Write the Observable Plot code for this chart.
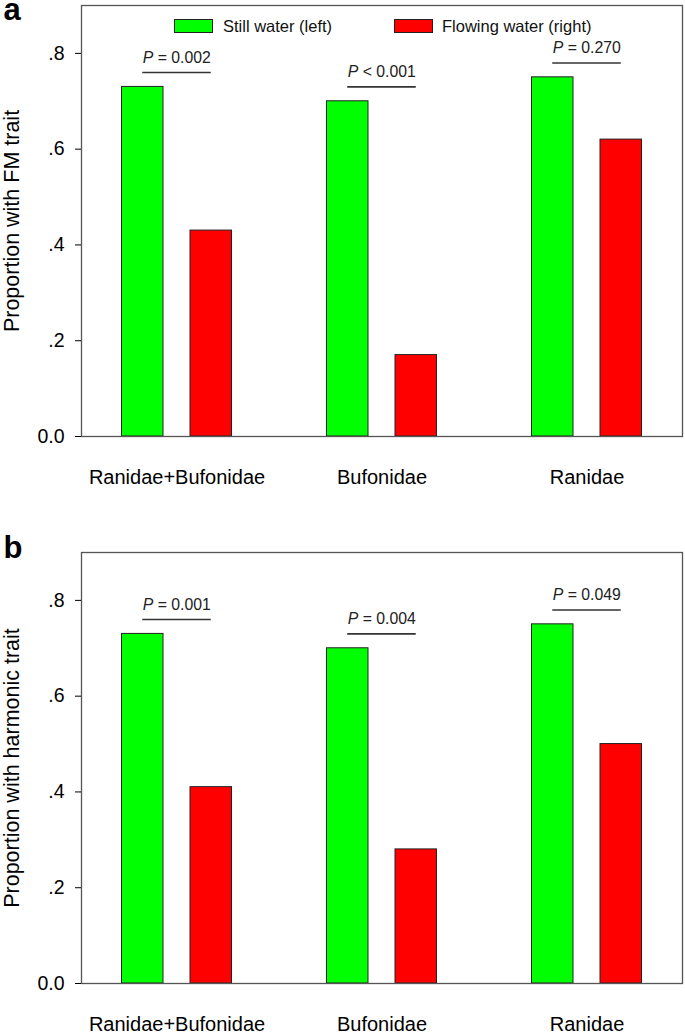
<!DOCTYPE html>
<html><head><meta charset="utf-8">
<script src="https://cdn.jsdelivr.net/npm/d3@7"></script>
<script src="https://cdn.jsdelivr.net/npm/@observablehq/plot@0.6"></script>
<style>
body{margin:0;background:#fff;}
#wrap{position:relative;width:685px;height:1035px;overflow:hidden;font-family:"Liberation Sans",Arial,sans-serif;background:#fff;}
#wrap svg{display:block;}
.sw{position:absolute;box-sizing:border-box;border:1px solid #222;}
.lt{position:absolute;font-size:16.5px;line-height:16px;color:#111;white-space:nowrap;}
</style></head><body><div id="wrap"></div>
<script>
const families = ["Ranidae+Bufonidae", "Bufonidae", "Ranidae"];
const waterTypes = ["Still water (left)", "Flowing water (right)"];
const waterColors = ["#00ff00", "#ff0000"];
const fmStill = [0.73, 0.70, 0.75];
const fmFlowing = [0.43, 0.17, 0.62];
const fmP = ["= 0.002", "< 0.001", "= 0.270"];
const harmStill = [0.73, 0.70, 0.75];
const harmFlowing = [0.41, 0.28, 0.50];
const harmP = ["= 0.001", "= 0.004", "= 0.049"];
const yTicks = [0, 0.2, 0.4, 0.6, 0.8];
const yTickLabels = ["0.0", ".2", ".4", ".6", ".8"];

const font = "'Liberation Sans', Arial, sans-serif";

function panel(letter, label, still, flowing, pvals, height, marginTop, marginBottom, letterDy) {
  const rows = families.map((f, i) => ({
    family: f, still: still[i], flowing: flowing[i], p: pvals[i],
    top: Math.max(still[i], flowing[i]) + 0.03
  }));
  return Plot.plot({
    width: 685, height, marginTop, marginBottom, marginLeft: 81, marginRight: 3,
    style: {fontFamily: font, color: "#000", background: "#fff", overflow: "visible"},
    x: {type: "band", domain: families, range: [74.25, 689.25], padding: 0},
    y: {domain: [0, 0.9]},
    marks: [
      Plot.barY(rows, {x: "family", y: "still", fill: waterColors[0], stroke: "#222", strokeWidth: 1,
        insetLeft: 81.75, insetRight: 81.75, dx: -34.25}),
      Plot.barY(rows, {x: "family", y: "flowing", fill: waterColors[1], stroke: "#222", strokeWidth: 1,
        insetLeft: 81.75, insetRight: 81.75, dx: 34.25}),
      Plot.frame({stroke: "#555", strokeWidth: 1.3}),
      Plot.ruleY(rows, {x1: "family", x2: "family", y: "top", insetLeft: 68.25, insetRight: 68.25,
        stroke: "#333", strokeWidth: 1.6}),
      Plot.text(rows, {x: "family", y: "top", text: () => "P", fontStyle: "italic", textAnchor: "start",
        lineAnchor: "bottom", dx: -34.25, dy: -10, fontSize: 15.8, fill: "#222"}),
      Plot.text(rows, {x: "family", y: "top", text: d => "\u00a0" + d.p, textAnchor: "start",
        lineAnchor: "bottom", dx: -34.25 + 10.5, dy: -10, fontSize: 15.8, fill: "#222"}),
      Plot.axisY({ticks: yTicks, tickFormat: d => yTickLabels[yTicks.indexOf(d)], tickSize: 6, tickPadding: 11,
        fontSize: 19.5, label: null}),
      Plot.text([label], {frameAnchor: "left", text: d => d, rotate: -90, dx: -78, fontSize: 21.5,
        textAnchor: "middle", lineAnchor: "top", fill: "#000"}),
      Plot.axisX({tickSize: 0, tickPadding: 33, fontSize: 20, label: null}),
      Plot.text([letter], {frameAnchor: "top-left", text: d => d, dx: -78, dy: letterDy, fontSize: 31,
        fontWeight: "bold", textAnchor: "start", lineAnchor: "bottom", fill: "#000"})
    ]
  });
}

const wrap = document.getElementById("wrap");
wrap.appendChild(panel("a", "Proportion with FM trait", fmStill, fmFlowing, fmP, 495, 5, 59, 14));
wrap.appendChild(panel("b", "Proportion with harmonic trait", harmStill, harmFlowing, harmP, 540, 57, 52, 5));

// legend (inside panel a, top)
const legendPos = [{sw: 174, tx: 223}, {sw: 394, tx: 442}];
waterTypes.forEach((t, i) => {
  const s = document.createElement("div");
  s.className = "sw";
  s.style.left = legendPos[i].sw + "px"; s.style.top = "19px";
  s.style.width = "39px"; s.style.height = "14px";
  s.style.background = waterColors[i];
  wrap.appendChild(s);
  const l = document.createElement("div");
  l.className = "lt";
  l.style.left = legendPos[i].tx + "px"; l.style.top = "18px";
  l.textContent = t;
  wrap.appendChild(l);
});
</script></body></html>
